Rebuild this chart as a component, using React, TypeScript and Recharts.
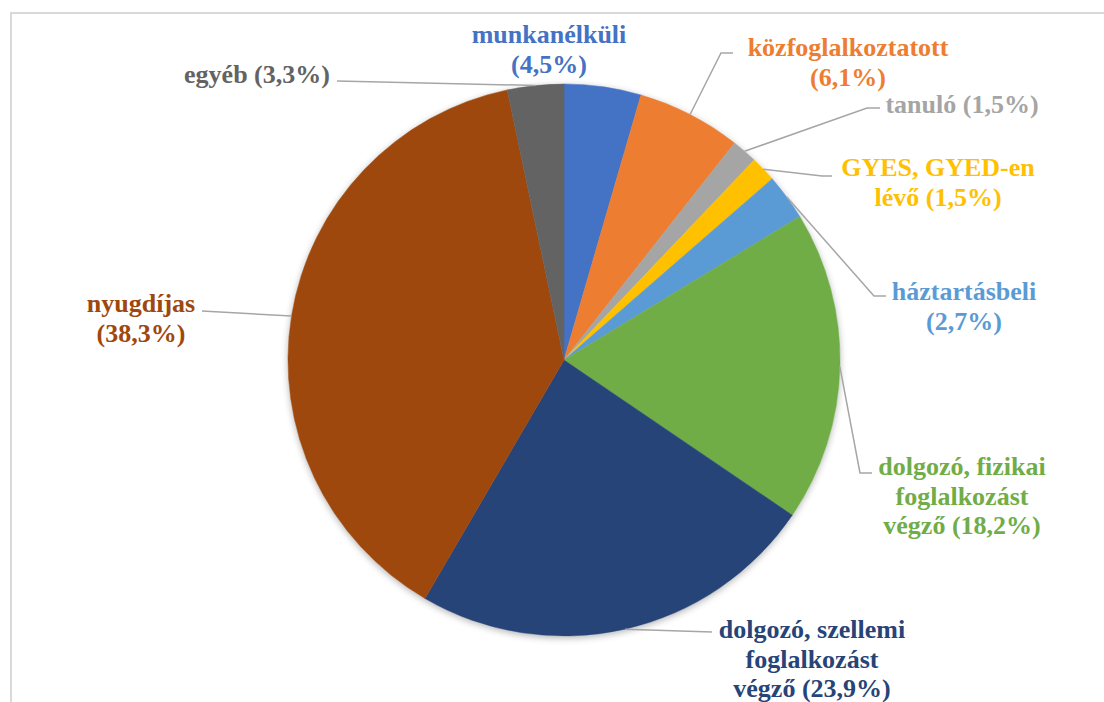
import { PieChart, Pie, Cell } from "recharts";

const categories = [
  "munkanélküli",
  "közfoglalkoztatott",
  "tanuló",
  "GYES, GYED-en lévő",
  "háztartásbeli",
  "dolgozó, fizikai foglalkozást végző",
  "dolgozó, szellemi foglalkozást végző",
  "nyugdíjas",
  "egyéb",
];
const shares = [4.5, 6.1, 1.5, 1.5, 2.7, 18.2, 23.9, 38.3, 3.3];

// how each label wraps; the percentage goes on a line of its own where pctOwnLine is true
const labelRows = [
  ["munkanélküli"],
  ["közfoglalkoztatott"],
  ["tanuló"],
  ["GYES, GYED-en", "lévő"],
  ["háztartásbeli"],
  ["dolgozó, fizikai", "foglalkozást", "végző"],
  ["dolgozó, szellemi", "foglalkozást", "végző"],
  ["nyugdíjas"],
  ["egyéb"],
];
const pctOwnLine = [true, true, false, false, true, false, false, true, false];

const colors = [
  "#4472C4",
  "#ED7D31",
  "#A5A5A5",
  "#FFC000",
  "#5B9BD5",
  "#70AD47",
  "#264478",
  "#9E480E",
  "#636363",
];

const data = categories.map((name, i) => ({ name, value: shares[i] }));

const W = 1104;
const H = 702;
const CX = 564;
const CY = 360;
const R = 276;
const LINE_H = 29.5;
const RADIAN = Math.PI / 180;
const FONT = '"Liberation Serif", "Times New Roman", Times, serif';

// text centre / first baseline, and leader line points after the arc point
const labelPos: { x: number; y: number; pts: number[][] }[] = [
  { x: 549, y: 43, pts: [] },
  { x: 848, y: 56, pts: [[721, 53], [733, 53]] },
  { x: 962, y: 113, pts: [[867, 108], [880, 108]] },
  { x: 938, y: 176, pts: [[822, 176], [832, 176]] },
  { x: 964, y: 300, pts: [[874, 296], [886, 296]] },
  { x: 962, y: 475, pts: [[860, 473], [872, 473]] },
  { x: 812, y: 638, pts: [[712, 632]] },
  { x: 141, y: 312, pts: [[202, 311]] },
  { x: 257, y: 83, pts: [[337, 81]] },
];

const fmt = (v: number) => "(" + v.toFixed(1).replace(".", ",") + "%)";

function renderLabel(props: any) {
  const { cx, cy, midAngle, outerRadius, index, value } = props;
  const ax = cx + outerRadius * Math.cos(-midAngle * RADIAN);
  const ay = cy + outerRadius * Math.sin(-midAngle * RADIAN);
  const pos = labelPos[index];
  const rows = [...labelRows[index]];
  if (pctOwnLine[index]) rows.push(fmt(value));
  else rows[rows.length - 1] = rows[rows.length - 1] + " " + fmt(value);
  const pts = [[ax, ay], ...pos.pts];
  return (
    <g key={"lbl" + index}>
      {pos.pts.length > 0 && (
        <polyline
          points={pts.map((p) => p.join(",")).join(" ")}
          fill="none"
          stroke="#A6A6A6"
          strokeWidth={1.5}
        />
      )}
      <text
        x={pos.x}
        y={pos.y}
        textAnchor="middle"
        fill={colors[index]}
        fontFamily={FONT}
        fontWeight={700}
        fontSize={26}
      >
        {rows.map((r, k) => (
          <tspan key={k} x={pos.x} dy={k === 0 ? 0 : LINE_H}>
            {r}
          </tspan>
        ))}
      </text>
    </g>
  );
}

export default function App() {
  return (
    <div
      style={{
        position: "absolute",
        left: 0,
        top: 0,
        width: W,
        height: H,
        background: "#fff",
        overflow: "hidden",
      }}
    >
      <div
        style={{
          position: "absolute",
          left: 10,
          top: 12,
          width: W,
          height: H,
          borderTop: "2px solid #D9D9D9",
          borderLeft: "2px solid #D9D9D9",
        }}
      />
      <div
        style={{
          position: "absolute",
          left: CX - R,
          top: CY - R,
          width: R * 2,
          height: R * 2,
          borderRadius: "50%",
          boxShadow: "0 2px 7px rgba(0,0,0,0.3)",
        }}
      />
      <div style={{ position: "absolute", left: 0, top: 0 }}>
        <PieChart width={W} height={H} margin={{ top: 0, right: 0, bottom: 0, left: 0 }}>
          <Pie
            data={data}
            dataKey="value"
            nameKey="name"
            cx={CX}
            cy={CY}
            outerRadius={R}
            startAngle={90}
            endAngle={-270}
            label={renderLabel}
            labelLine={false}
            isAnimationActive={false}
          >
            {data.map((d, i) => (
              <Cell key={d.name} fill={colors[i]} stroke={colors[i]} strokeWidth={0.5} />
            ))}
          </Pie>
        </PieChart>
      </div>
    </div>
  );
}
